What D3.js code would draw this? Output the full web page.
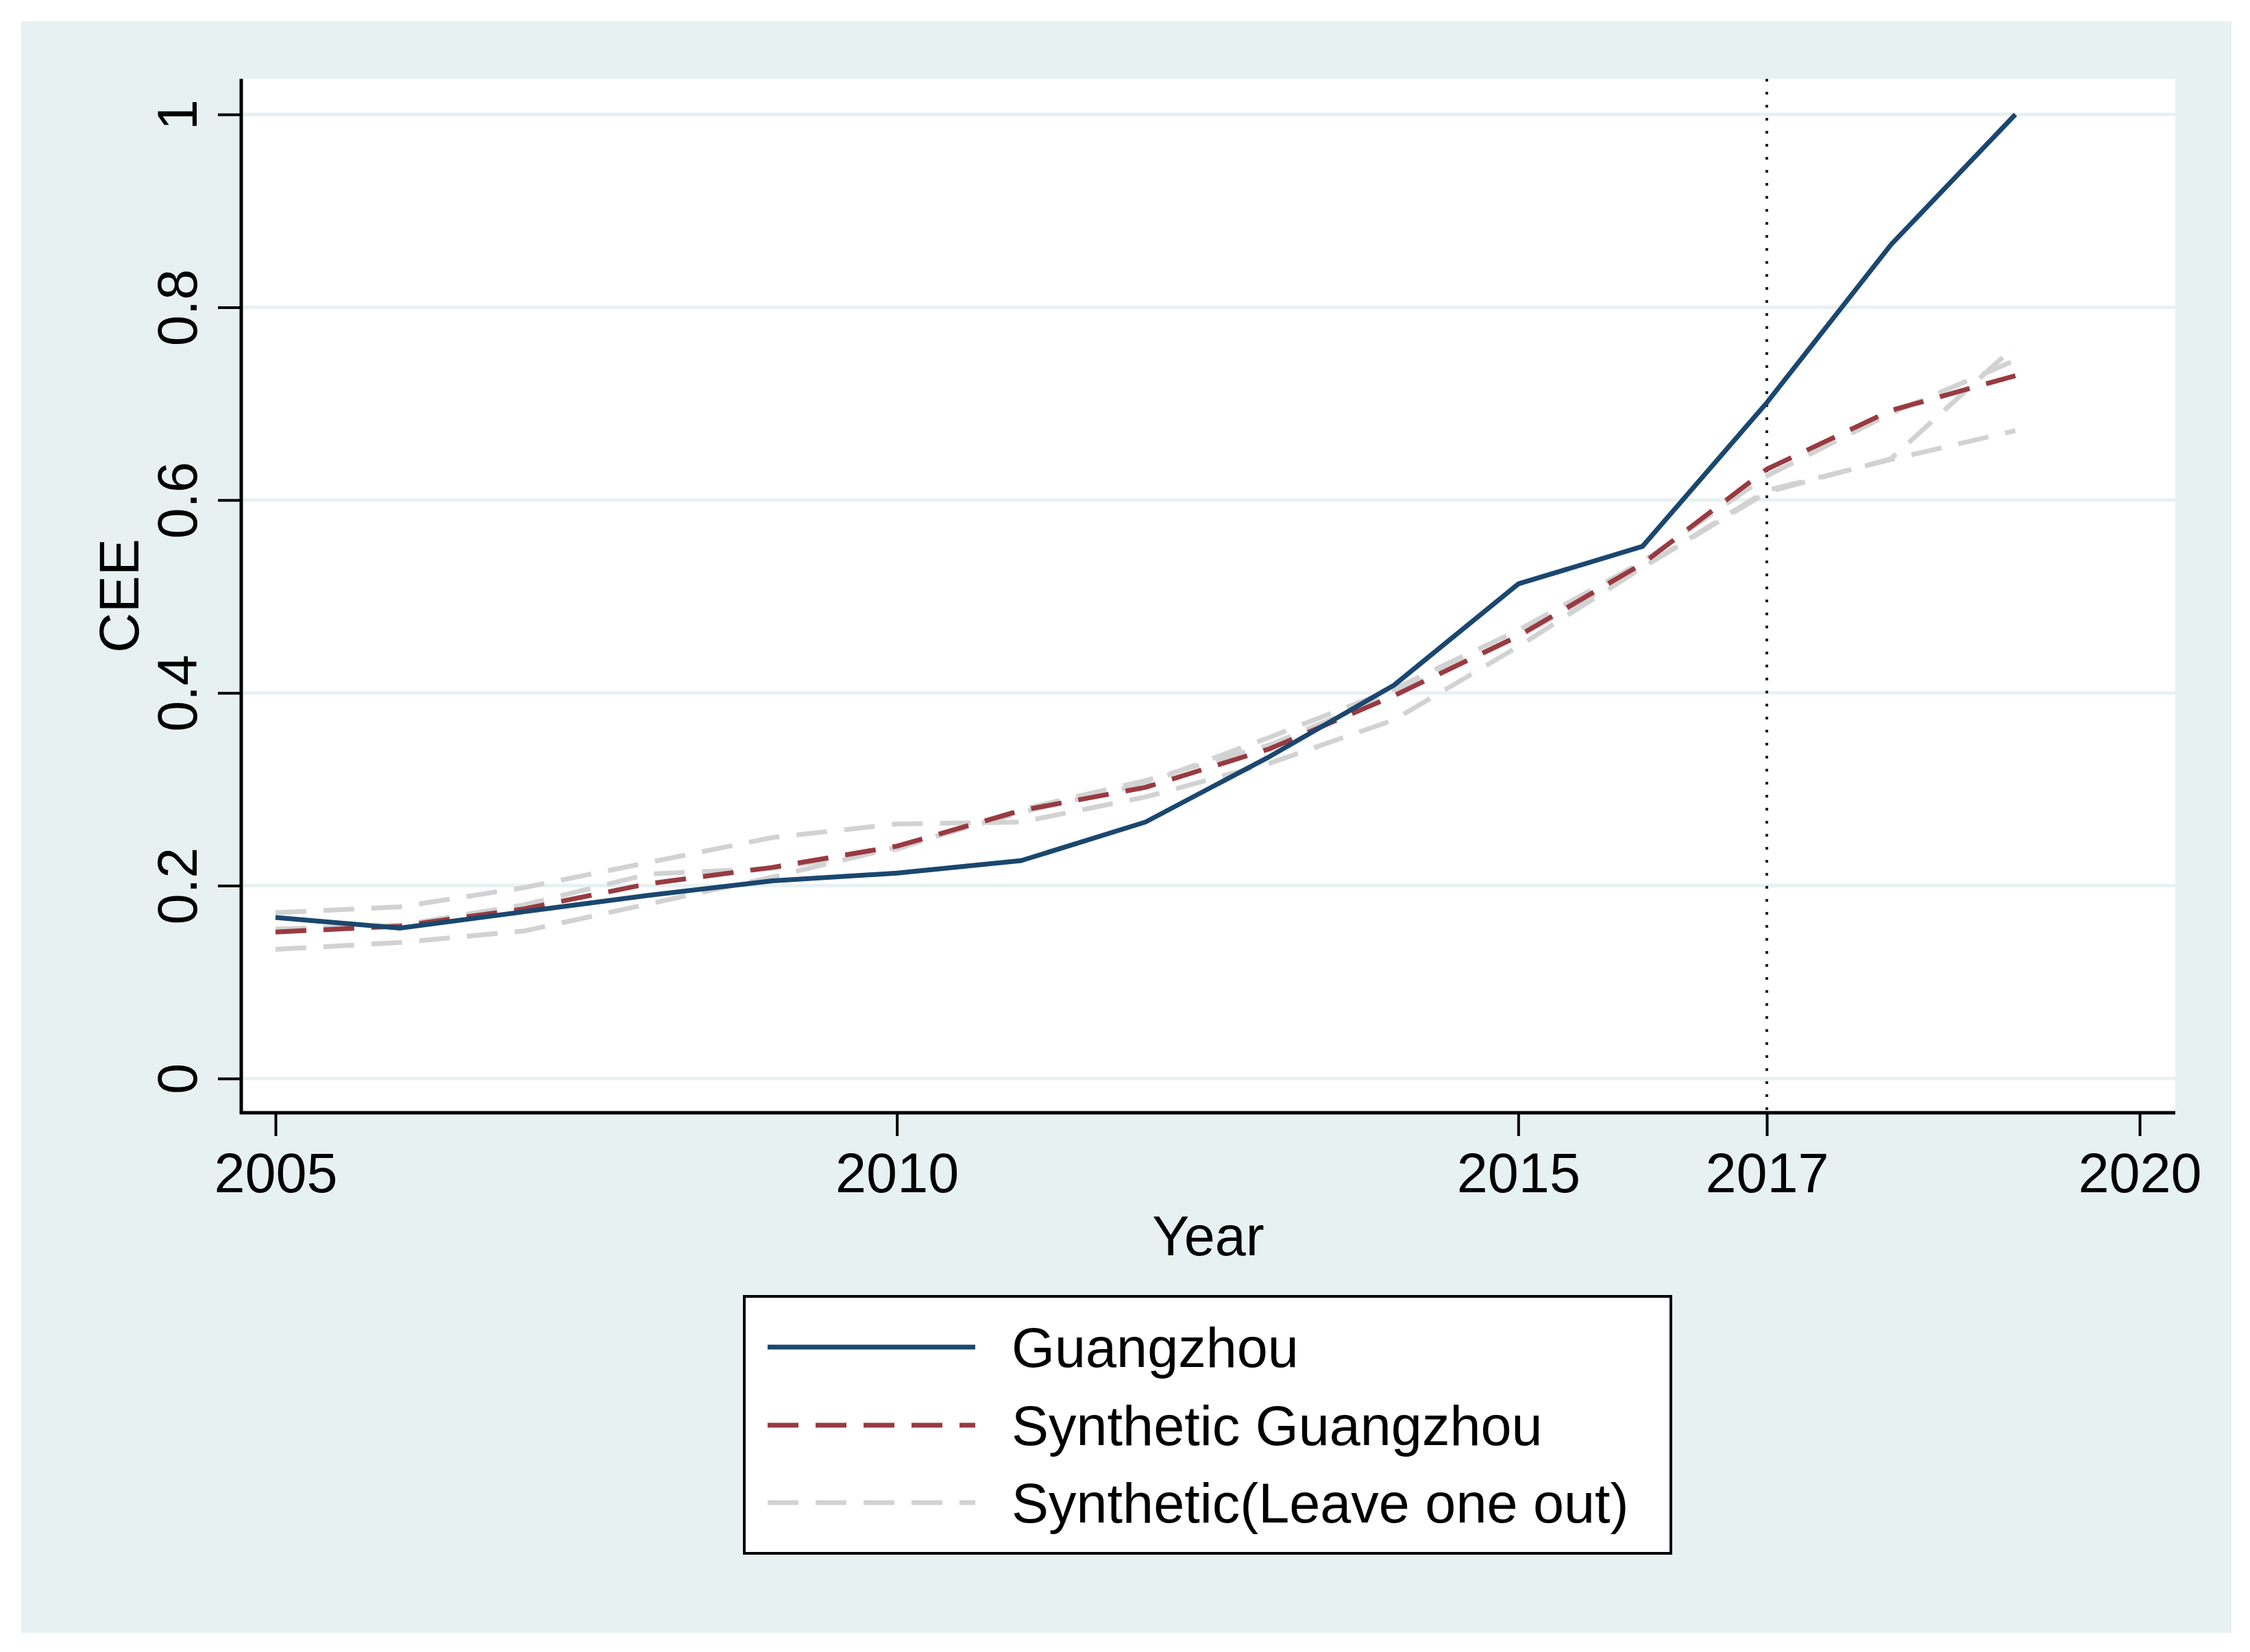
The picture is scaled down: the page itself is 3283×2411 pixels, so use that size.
<!DOCTYPE html>
<html>
<head>
<meta charset="utf-8">
<script src="https://cdn.jsdelivr.net/npm/d3@7"></script>
<style>
  body { margin: 0; background: #ffffff; }
  text { font-family: "Liberation Sans", Arial, sans-serif; fill: #000; }
</style>
</head>
<body>
<svg id="chart"></svg>
<script>
// data
let years = [2005, 2006, 2007, 2008, 2009, 2010, 2011, 2012, 2013, 2014, 2015, 2016, 2017, 2018, 2019]
let guangzhou = [0.167, 0.156, 0.173, 0.190, 0.205, 0.213, 0.226, 0.266, 0.334, 0.408, 0.513, 0.552, 0.701, 0.865, 1.000]
let synthetic = [0.152, 0.158, 0.176, 0.202, 0.219, 0.241, 0.278, 0.302, 0.342, 0.397, 0.459, 0.534, 0.632, 0.693, 0.729]
let leaveOut1 = [0.172, 0.178, 0.198, 0.224, 0.250, 0.264, 0.266, 0.292, 0.327, 0.372, 0.448, 0.530, 0.610, 0.642, 0.672]
let leaveOut2 = [0.134, 0.141, 0.153, 0.181, 0.209, 0.240, 0.276, 0.306, 0.354, 0.404, 0.465, 0.536, 0.625, 0.690, 0.745]
let leaveOut3 = [0.155, 0.159, 0.180, 0.212, 0.218, 0.238, 0.279, 0.309, 0.346, 0.400, 0.458, 0.530, 0.608, 0.643, 0.760]
let xTicks = [2005, 2010, 2015, 2017, 2020]
let yTicks = [0, 0.2, 0.4, 0.6, 0.8, 1]
let legendLabels = ['Guangzhou', 'Synthetic Guangzhou', 'Synthetic(Leave one out)']
let treatYear = 2017

let width = 3283
let height = 2411
let plot = {left: 352, right: 3174, top: 115, bottom: 1624}
let blue = '#1a476f'
let red = '#993a41'
let grey = '#d2d2d2'
let bg = '#e8f1f2'

let svg = d3.select('#chart').attr('width', width).attr('height', height)

// outer region + plot region
svg.append('rect').attr('x', 31).attr('y', 31).attr('width', 3225).attr('height', 2352).attr('fill', bg)
svg.append('rect').attr('x', plot.left).attr('y', plot.top)
    .attr('width', plot.right - plot.left).attr('height', plot.bottom - plot.top).attr('fill', '#fff')

let xScale = d3.scaleLinear().domain([2005, 2020]).range([402, 3122])
let yScale = d3.scaleLinear().domain([0, 1]).range([1574, 167])

// gridlines
svg.append('g').selectAll('line')
    .data(yTicks)
    .enter()
    .append('line')
    .attr('x1', plot.left).attr('x2', plot.right)
    .attr('y1', (d) => yScale(d)).attr('y2', (d) => yScale(d))
    .attr('stroke', bg).attr('stroke-width', 5)

// dotted line at treatment year
svg.append('line')
    .attr('x1', xScale(treatYear)).attr('x2', xScale(treatYear))
    .attr('y1', plot.top).attr('y2', plot.bottom)
    .attr('stroke', '#222').attr('stroke-width', 4).attr('stroke-dasharray', '4,15')

let line = d3.line()
    .x((d, i) => xScale(years[i]))
    .y((d) => yScale(d))

let drawSeries = (values, color, dash) => {
    svg.append('path')
        .datum(values)
        .attr('d', line)
        .attr('fill', 'none')
        .attr('stroke', color)
        .attr('stroke-width', 7)
        .attr('stroke-dasharray', dash)
        .attr('stroke-linejoin', 'round')
}

drawSeries(leaveOut1, grey, '45,25')
drawSeries(leaveOut2, grey, '45,25')
drawSeries(leaveOut3, grey, '45,25')
drawSeries(synthetic, red, '45,25')
drawSeries(guangzhou, blue, null)

// axes
let xAxis = d3.axisBottom(xScale).tickValues(xTicks).tickFormat(d3.format('d')).tickSize(34).tickPadding(24)
let gx = svg.append('g')
    .attr('transform', 'translate(0,' + plot.bottom + ')')
    .call(xAxis)
gx.select('.domain').remove()
gx.append('line').attr('x1', plot.left - 2).attr('x2', plot.right).attr('y1', 0).attr('y2', 0)
    .attr('stroke', '#000').attr('stroke-width', 5)
gx.selectAll('.tick line').attr('stroke', '#000').attr('stroke-width', 4)
gx.selectAll('.tick text').attr('font-size', 81).attr('font-family', '"Liberation Sans", Arial, sans-serif')

let yAxis = d3.axisLeft(yScale).tickValues(yTicks).tickFormat(d3.format('')).tickSize(34).tickPadding(0)
let gy = svg.append('g')
    .attr('transform', 'translate(' + plot.left + ',0)')
    .call(yAxis)
gy.select('.domain').remove()
gy.append('line').attr('x1', 0).attr('x2', 0).attr('y1', plot.top).attr('y2', plot.bottom + 2)
    .attr('stroke', '#000').attr('stroke-width', 5)
gy.selectAll('.tick line').attr('stroke', '#000').attr('stroke-width', 4)
gy.selectAll('.tick text')
    .attr('font-size', 81)
    .attr('font-family', '"Liberation Sans", Arial, sans-serif')
    .attr('x', null).attr('dy', null)
    .attr('text-anchor', 'middle')
    .attr('transform', 'translate(-65,0) rotate(-90)')

// axis titles
svg.append('text').attr('x', (plot.left + plot.right) / 2).attr('y', 1832)
    .attr('text-anchor', 'middle').attr('font-size', 81).text('Year')
svg.append('text')
    .attr('transform', 'translate(202,' + (plot.top + plot.bottom) / 2 + ') rotate(-90)')
    .attr('text-anchor', 'middle').attr('font-size', 81).text('CEE')

// legend
let legend = svg.append('g')
legend.append('rect').attr('x', 1086).attr('y', 1892).attr('width', 1352).attr('height', 375)
    .attr('fill', '#fff').attr('stroke', '#000').attr('stroke-width', 4)
let legendColors = [blue, red, grey]
let legendDash = [null, '45,25', '45,25']
let rowY = [1966, 2080, 2193]
legendLabels.forEach((lab, i) => {
    legend.append('line').attr('x1', 1120).attr('x2', 1423).attr('y1', rowY[i]).attr('y2', rowY[i])
        .attr('stroke', legendColors[i]).attr('stroke-width', 7).attr('stroke-dasharray', legendDash[i])
    legend.append('text').attr('x', 1476).attr('y', rowY[i] + 29).attr('font-size', 81).text(lab)
})
</script>
</body>
</html>
